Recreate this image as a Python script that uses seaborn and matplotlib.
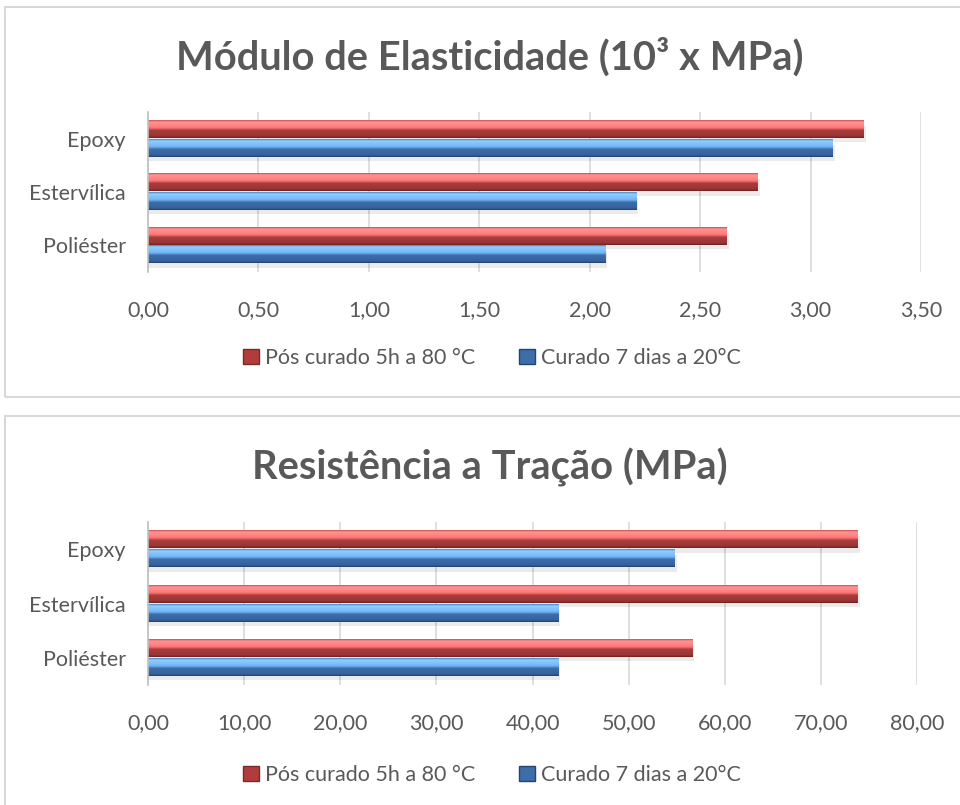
import numpy as np
import pandas as pd
import matplotlib
matplotlib.use('Agg')
import matplotlib.pyplot as plt
import seaborn as sns
from matplotlib.colors import LinearSegmentedColormap
from matplotlib.patches import Patch, Rectangle
from matplotlib.ticker import FuncFormatter, MultipleLocator

# data
materials = ['Epoxy', 'Estervílica', 'Poliéster']
series = ['Pós curado 5h a 80 °C', 'Curado 7 dias a 20°C']
modulo_pos = [3.24, 2.76, 2.62]
modulo_cur = [3.10, 2.21, 2.07]
tracao_pos = [73.8, 73.8, 56.6]
tracao_cur = [54.8, 42.7, 42.7]

TXT = '#595959'
GRID = '#D9D9D9'
RED = '#B03C3C'
BLUE = '#3C6EAA'

sns.set_theme(style='white')
plt.rcParams['font.family'] = ['Lato', 'DejaVu Sans']

red_cmap = LinearSegmentedColormap.from_list('r', [
    (0.0, '#C85050'), (0.10, '#FF9494'), (0.40, '#FF7A7A'), (0.50, '#E05A5A'),
    (0.56, '#A93C3C'), (0.90, '#9A3434'), (1.0, '#6A2020')])
blue_cmap = LinearSegmentedColormap.from_list('b', [
    (0.0, '#4A88C8'), (0.10, '#90CEFF'), (0.40, '#76B8FA'), (0.50, '#5A96D8'),
    (0.56, '#3D6DAA'), (0.90, '#35629C'), (1.0, '#22406A')])


def long_df(pos, cur):
    return pd.DataFrame({
        'material': materials * 2,
        'serie': [series[0]] * 3 + [series[1]] * 3,
        'valor': pos + cur,
    })


def shade_bars(ax):
    xl, yl = ax.get_xlim(), ax.get_ylim()
    grad = np.linspace(0, 1, 64).reshape(-1, 1)
    for p in ax.patches:
        x0, y0, w, h = p.get_x(), p.get_y(), p.get_width(), p.get_height()
        fc = p.get_facecolor()
        cmap = red_cmap if fc[0] > fc[2] else blue_cmap
        ax.add_patch(Rectangle((x0, y0 + h * 0.3), w * 1.004, h * 0.95,
                               color='#000000', alpha=0.08, lw=0, zorder=1.5))
        ax.imshow(grad, cmap=cmap, extent=(x0, x0 + w, y0 + h, y0),
                  origin='upper', aspect='auto', interpolation='bilinear', zorder=2)
        p.set_visible(False)
    ax.set_xlim(xl)
    ax.set_ylim(yl)


def draw_panel(ax, pos, cur, xmax, step, fmt):
    df = long_df(pos, cur)
    sns.barplot(data=df, y='material', x='valor', hue='serie', hue_order=series,
                order=materials, palette=[RED, BLUE], width=0.70, gap=0.08,
                legend=False, ax=ax)
    ax.set_xlim(0, xmax)
    ax.xaxis.set_major_locator(MultipleLocator(step))
    ax.xaxis.set_major_formatter(FuncFormatter(lambda v, _: fmt.format(v).replace('.', ',')))
    ax.grid(axis='x', color=GRID, lw=1.2)
    ax.set_axisbelow(True)
    for s in ['top', 'right', 'bottom']:
        ax.spines[s].set_visible(False)
    ax.spines['left'].set_color('#BFBFBF')
    ax.spines['left'].set_linewidth(1.2)
    ax.tick_params(axis='x', length=0, pad=20, labelsize=15.5, labelcolor=TXT)
    ax.tick_params(axis='y', length=0, pad=16, labelsize=15.5, labelcolor=TXT)
    ax.set_xlabel('')
    ax.set_ylabel('')
    shade_bars(ax)


W, H = 960, 805
fig = plt.figure(figsize=(W / 100, H / 100), dpi=100)

# panel frames
for top, bot in [(7, 397), (416, 812)]:
    fig.patches.append(Rectangle((5 / W, 1 - bot / H), 1.0, (bot - top) / H,
                                 transform=fig.transFigure, fill=False,
                                 edgecolor=GRID, lw=1.5))

ax1 = fig.add_axes([148 / W, 1 - 272 / H, (921 - 148) / W, 160 / H])
draw_panel(ax1, modulo_pos, modulo_cur, 3.5, 0.5, '{:.2f}')

ax2 = fig.add_axes([148 / W, 1 - 685 / H, (917 - 148) / W, 163 / H])
draw_panel(ax2, tracao_pos, tracao_cur, 80, 10, '{:.2f}')

fig.text(490 / W, 1 - 57 / H, 'Módulo de Elasticidade (10³ x MPa)', ha='center',
         va='center', fontsize=28.7, fontweight='bold', color=TXT)
fig.text(490 / W, 1 - 467 / H, 'Resistência a Tração (MPa)', ha='center',
         va='center', fontsize=28.7, fontweight='bold', color=TXT)

handles = [Patch(facecolor=RED, edgecolor='#7A2A2A', label=series[0]),
           Patch(facecolor=BLUE, edgecolor='#25456F', label=series[1])]
for yy in (358, 775):
    fig.legend(handles=handles, loc='center', bbox_to_anchor=(492 / W, 1 - yy / H),
               ncol=2, frameon=False, fontsize=15.5, labelcolor=TXT,
               handlelength=0.75, handleheight=0.75, handletextpad=0.3,
               columnspacing=2.0)

fig.savefig('out.png', dpi=100)
